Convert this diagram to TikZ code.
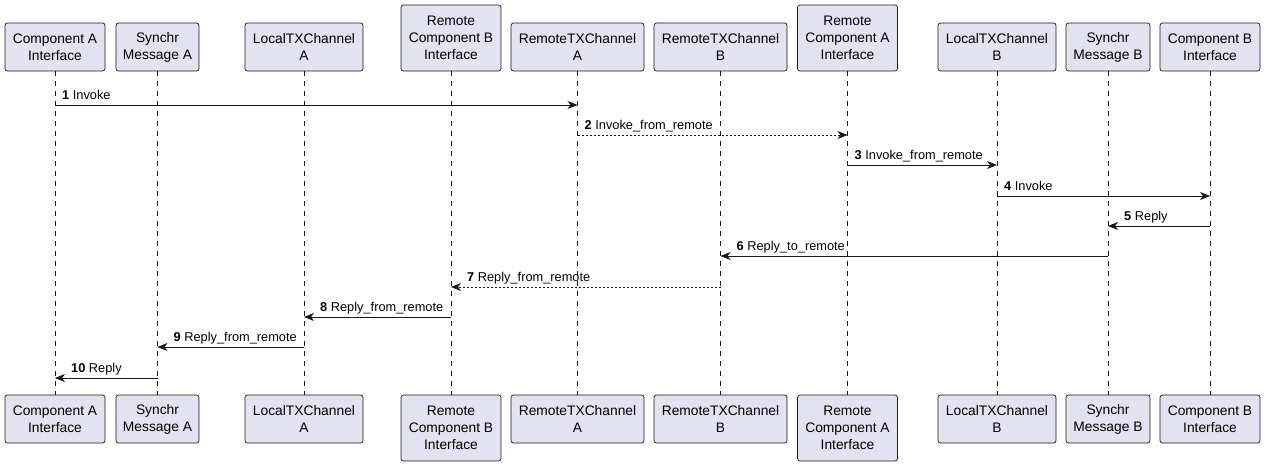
\documentclass[tikz,border=0pt]{standalone}
\usepackage{fontspec}
\setmainfont{Liberation Sans}
\usetikzlibrary{arrows.meta,calc}
\definecolor{boxfill}{HTML}{E2E2F0}
\definecolor{ink}{HTML}{181818}
\begin{document}
\begin{tikzpicture}[x=1pt,y=-1pt,
  part/.style={draw=ink,fill=boxfill,rounded corners=2.5pt,line width=0.7pt,
    align=center,inner sep=0pt,font=\fontsize{13.8}{17}\selectfont},
  twol/.style={minimum height=48pt},
  threel/.style={minimum height=66pt},
  life/.style={draw=ink,line width=0.7pt,dash pattern=on 5pt off 5pt},
  msg/.style={draw=ink,line width=0.9pt,-{Stealth[length=10pt,width=8pt,inset=3pt]}},
  rmsg/.style={msg,dash pattern=on 2pt off 2pt},
  lbl/.style={anchor=base west,inner sep=0pt,text=black,font=\fontsize{12.8}{15}\selectfont}]
\useasboundingbox (0,0) rectangle (1265,467);
% top participants
\node[part,twol,minimum width=100pt] (tCA) at (55,47) {Component A\\Interface};
\node[part,twol,minimum width=83pt] (tSA) at (157.5,47) {Synchr\\Message A};
\node[part,twol,minimum width=118pt] (tLA) at (304,47) {LocalTXChannel\\A};
\node[part,threel,minimum width=100pt] (tRB) at (451,38) {Remote\\Component B\\Interface};
\node[part,twol,minimum width=133pt] (tXA) at (577.5,47) {RemoteTXChannel\\A};
\node[part,twol,minimum width=133pt] (tXB) at (720.5,47) {RemoteTXChannel\\B};
\node[part,threel,minimum width=100pt] (tRA) at (847.5,38) {Remote\\Component A\\Interface};
\node[part,twol,minimum width=118pt] (tLB) at (997,47) {LocalTXChannel\\B};
\node[part,twol,minimum width=84pt] (tSB) at (1108,47) {Synchr\\Message B};
\node[part,twol,minimum width=100pt] (tCB) at (1210,47) {Component B\\Interface};
% bottom participants
\node[part,twol,minimum width=100pt] (bCA) at (55,419) {Component A\\Interface};
\node[part,twol,minimum width=83pt] (bSA) at (157.5,419) {Synchr\\Message A};
\node[part,twol,minimum width=118pt] (bLA) at (304,419) {LocalTXChannel\\A};
\node[part,threel,minimum width=100pt] (bRB) at (451,428) {Remote\\Component B\\Interface};
\node[part,twol,minimum width=133pt] (bXA) at (577.5,419) {RemoteTXChannel\\A};
\node[part,twol,minimum width=133pt] (bXB) at (720.5,419) {RemoteTXChannel\\B};
\node[part,threel,minimum width=100pt] (bRA) at (847.5,428) {Remote\\Component A\\Interface};
\node[part,twol,minimum width=118pt] (bLB) at (997,419) {LocalTXChannel\\B};
\node[part,twol,minimum width=84pt] (bSB) at (1108,419) {Synchr\\Message B};
\node[part,twol,minimum width=100pt] (bCB) at (1210,419) {Component B\\Interface};
% lifelines
\foreach \p in {CA,SA,LA,RB,XA,XB,RA,LB,SB,CB}
  \draw[life] (t\p.south) -- (b\p.north);
% message rows
\foreach \i/\y in {1/105,2/135,3/165,4/196,5/226,6/256,7/287,8/317,9/347,10/378}
  \coordinate (y\i) at (0,\y);
% messages
\draw[msg] (tCA |- y1) -- (tXA |- y1);
\node[lbl] at ($(tCA |- y1)+(7,-6)$) {\textbf{1} Invoke};
\draw[rmsg] (tXA |- y2) -- (tRA |- y2);
\node[lbl] at ($(tXA |- y2)+(7,-6)$) {\textbf{2} Invoke\_from\_remote};
\draw[msg] (tRA |- y3) -- (tLB |- y3);
\node[lbl] at ($(tRA |- y3)+(7,-6)$) {\textbf{3} Invoke\_from\_remote};
\draw[msg] (tLB |- y4) -- (tCB |- y4);
\node[lbl] at ($(tLB |- y4)+(7,-6)$) {\textbf{4} Invoke};
\draw[msg] (tCB |- y5) -- (tSB |- y5);
\node[lbl] at ($(tSB |- y5)+(16,-6)$) {\textbf{5} Reply};
\draw[msg] (tSB |- y6) -- (tXB |- y6);
\node[lbl] at ($(tXB |- y6)+(16,-6)$) {\textbf{6} Reply\_to\_remote};
\draw[rmsg] (tXB |- y7) -- (tRB |- y7);
\node[lbl] at ($(tRB |- y7)+(16,-6)$) {\textbf{7} Reply\_from\_remote};
\draw[msg] (tRB |- y8) -- (tLA |- y8);
\node[lbl] at ($(tLA |- y8)+(16,-6)$) {\textbf{8} Reply\_from\_remote};
\draw[msg] (tLA |- y9) -- (tSA |- y9);
\node[lbl] at ($(tSA |- y9)+(16,-6)$) {\textbf{9} Reply\_from\_remote};
\draw[msg] (tSA |- y10) -- (tCA |- y10);
\node[lbl] at ($(tCA |- y10)+(16,-6)$) {\textbf{10} Reply};
\end{tikzpicture}
\end{document}
